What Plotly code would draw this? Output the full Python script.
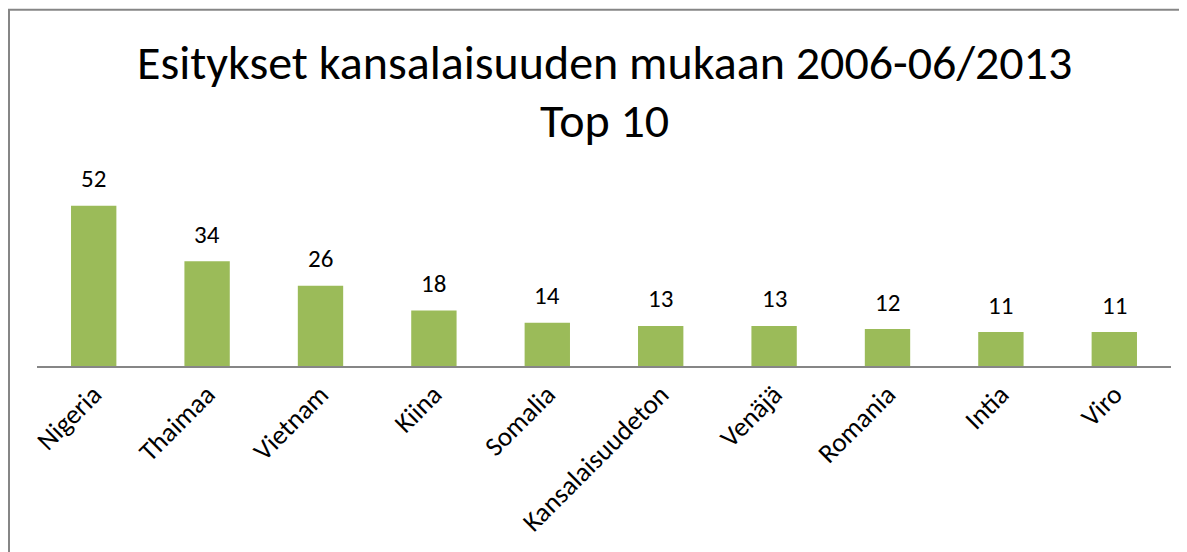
import plotly.graph_objects as go

countries = ["Nigeria", "Thaimaa", "Vietnam", "Kiina", "Somalia",
             "Kansalaisuudeton", "Venäjä", "Romania", "Intia", "Viro"]
counts = [52, 34, 26, 18, 14, 13, 13, 12, 11, 11]
title_lines = ["Esitykset kansalaisuuden mukaan 2006-06/2013", "Top 10"]

OFF = 8  # page body margin offset
W, H = 1187, 552
L, R = 37 - OFF, 1171 - OFF
base_y, top_y = 366 - OFF, 181.4 - OFF
ymax = 60
pw = R - L
ph = base_y - top_y


def py(p):
    return (base_y - p) / ph


def px(p):
    return (p - L) / pw


fig = go.Figure(go.Bar(
    x=countries, y=counts, marker=dict(color="#9BBB59", line=dict(width=0)),
    hoverinfo="skip",
))

font = "Carlito, Lato, 'Open Sans', sans-serif"
for c, v in zip(countries, counts):
    fig.add_annotation(x=c, y=v, text=str(v), showarrow=False, yanchor="middle",
                       yshift=27, font=dict(family=font, size=25, color="#000"))

for line, cy in zip(title_lines, [55, 113]):
    fig.add_annotation(xref="paper", yref="paper", x=px(604 - OFF), y=py(cy - OFF + 8),
                       text=line, showarrow=False, xanchor="center", yanchor="middle",
                       font=dict(family=font, size=48, color="#000"))

fig.add_shape(type="rect", xref="paper", yref="paper",
              x0=px(1), x1=px(1400), y0=py(800), y1=py(2.5),
              line=dict(color="#868686", width=2), fillcolor="rgba(0,0,0,0)", layer="below")

fig.update_layout(
    width=W, height=H,
    margin=dict(l=L, r=W - R, t=top_y, b=H - base_y, pad=0),
    paper_bgcolor="white", plot_bgcolor="white",
    bargap=0.6, showlegend=False,
    xaxis=dict(showline=True, linecolor="#868686", linewidth=2, ticks="",
               tickangle=-45, tickfont=dict(family=font, size=27, color="#000"),
               showgrid=False, fixedrange=True),
    yaxis=dict(range=[0, ymax], visible=False, showgrid=False, fixedrange=True),
)

fig.write_html("out.html")
